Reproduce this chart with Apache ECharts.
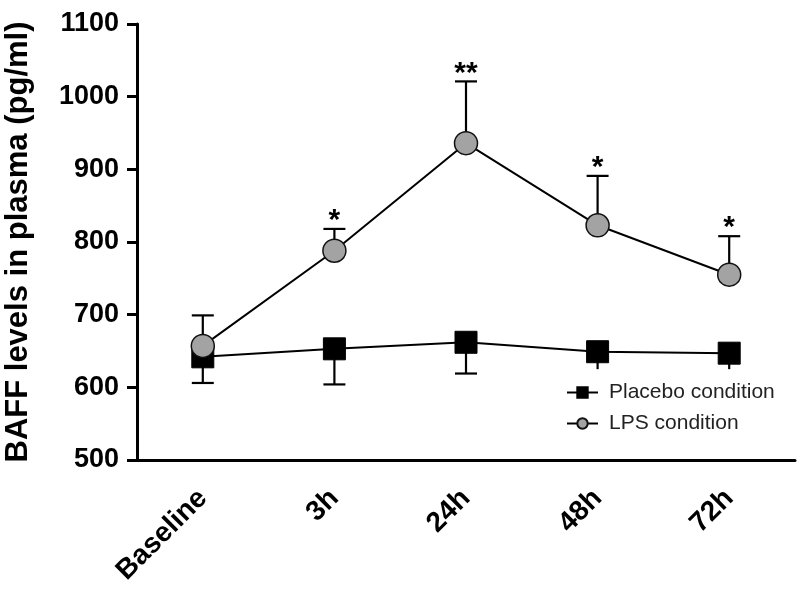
<!DOCTYPE html>
<html><head><meta charset="utf-8">
<script src="https://cdn.jsdelivr.net/npm/echarts@6/dist/echarts.min.js"></script>
<style>html,body{margin:0;padding:0;background:#fff}#c{width:800px;height:600px}</style>
</head><body><div id="c"></div>
<script>
var categories = ['Baseline', '3h', '24h', '48h', '72h'];
var placebo = [642, 653, 662, 649, 647];
var placeboLower = [606, 604, 619, 625, 625];
var lps = [657, 788, 936, 823, 755];
var lpsUpper = [699, 818, 1021, 891, 808];
var significance = ['', '*', '**', '*', '*'];
var yTicks = [500, 600, 700, 800, 900, 1000, 1100];

var FONT = '"Liberation Sans", Arial, sans-serif';
var placeboErr = categories.map(function (c, i) { return [i, placeboLower[i], placebo[i], '', 0]; });
var lpsErr = categories.map(function (c, i) { return [i, lps[i], lpsUpper[i], significance[i], 1]; });

function renderErr(params, api) {
  var x = api.value(0);
  var a = api.coord([x, api.value(1)]);
  var b = api.coord([x, api.value(2)]);
  var half = 11;
  var up = api.value(4) === 1;
  var children = [
    { type: 'line', shape: { x1: a[0], y1: a[1], x2: b[0], y2: b[1] }, style: { stroke: '#000', lineWidth: 2.2 } }
  ];
  var cy = up ? Math.min(a[1], b[1]) : Math.max(a[1], b[1]);
  if (Math.abs(a[1] - b[1]) > 20) {
    children.push({ type: 'line', shape: { x1: a[0] - half, y1: cy, x2: a[0] + half, y2: cy }, style: { stroke: '#000', lineWidth: 2.2 } });
  }
  var sig = api.value(3);
  if (sig) {
    children.push({ type: 'text', style: { text: sig, x: a[0], y: cy + 7, align: 'center', verticalAlign: 'bottom', font: 'bold 30px ' + FONT, fill: '#000' } });
  }
  return { type: 'group', children: children };
}

var chart = echarts.init(document.getElementById('c'));
chart.setOption({
  animation: false,
  backgroundColor: '#fff',
  grid: { left: 137, right: 5, top: 24, bottom: 140, containLabel: false, outerBoundsMode: 'none' },
  legend: {
    orient: 'vertical', left: 561, top: 377, itemGap: 10, itemWidth: 31, itemHeight: 13,
    textStyle: { fontSize: 21, color: '#222', fontFamily: FONT, padding: [0, 0, 0, 6] },
    data: ['Placebo condition', 'LPS condition']
  },
  xAxis: {
    type: 'category', data: categories, boundaryGap: true,
    axisLine: { lineStyle: { color: '#000', width: 3 } },
    axisTick: { alignWithLabel: true, length: 11, lineStyle: { color: '#000', width: 3 } },
    axisLabel: { rotate: 45, fontSize: 28, fontWeight: 'bold', color: '#000', margin: 34, fontFamily: FONT }
  },
  yAxis: {
    type: 'value', min: 500, max: 1100, interval: 100,
    name: 'BAFF levels in plasma (pg/ml)', nameLocation: 'middle', nameGap: 103, nameRotate: 90,
    nameTextStyle: { fontSize: 31, fontWeight: 'bold', color: '#000', fontFamily: FONT },
    axisLine: { show: true, lineStyle: { color: '#000', width: 3 } },
    axisTick: { show: true, length: 10, lineStyle: { color: '#000', width: 3 } },
    splitLine: { show: false },
    axisLabel: { fontSize: 27, fontWeight: 'bold', color: '#000', margin: 18, fontFamily: FONT,
      formatter: function (v) { return yTicks.indexOf(v) >= 0 ? String(v) : ''; } }
  },
  series: [
    { name: 'placeboErr', type: 'custom', renderItem: renderErr, data: placeboErr, z: 1, silent: true },
    { name: 'Placebo condition', type: 'line', data: placebo, symbol: 'rect', symbolSize: 22, z: 2,
      lineStyle: { color: '#000', width: 2 }, itemStyle: { color: '#000', borderColor: '#000', borderWidth: 1 } },
    { name: 'lpsErr', type: 'custom', renderItem: renderErr, data: lpsErr, z: 3, silent: true },
    { name: 'LPS condition', type: 'line', data: lps, symbol: 'circle', symbolSize: 23, z: 4,
      lineStyle: { color: '#000', width: 2 }, itemStyle: { color: '#a3a3a3', borderColor: '#111', borderWidth: 1.5 } }
  ]
});
</script></body></html>
